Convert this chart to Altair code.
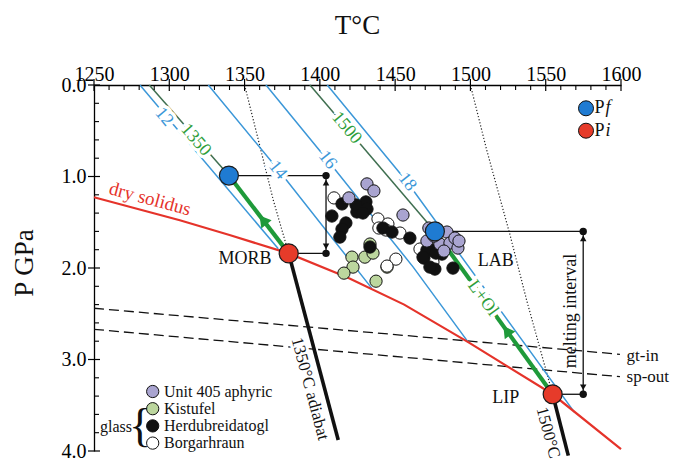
import altair as alt
import pandas as pd

FONT = "Liberation Serif"

# ---------------- axis ticks ----------------
t_major = [1250, 1300, 1350, 1400, 1450, 1500, 1550, 1600]
t_minor = [t for t in range(1250, 1601, 10) if t % 50]
p_major = [0, 1, 2, 3, 4]
p_minor = [0.2, 0.4, 0.6, 0.8, 1.2, 1.4, 1.6, 1.8, 2.2, 2.4, 2.6, 2.8,
           3.2, 3.4, 3.6, 3.8]

# ---------------- curves (T in °C, P in GPa) ----------------
solidus_T = [1250, 1307, 1340, 1379.3, 1418, 1456, 1498.5, 1554.6, 1600]
solidus_P = [1.227, 1.478, 1.64, 1.84, 2.10, 2.40, 2.81, 3.38, 3.98]

iso12_T, iso12_P = [1280.5, 1372.4], [0, 1.79]
iso14_T, iso14_P = [1325.9, 1372.4, 1434.4], [0, 0.927, 2.22]
iso16_T, iso16_P = [1364.2, 1405, 1462, 1498.5], [0, 0.82, 1.99, 2.81]
iso18_T, iso18_P = [1404.9, 1458, 1569], [0, 1.06, 3.575]

ad1350_T, ad1350_P = [1286.7, 1339.6], [0, 0.99]
ad1500_T, ad1500_P = [1393.4, 1476.4], [0, 1.60]

dotA_T, dotA_P = [1350, 1360.2, 1369.1, 1379.3], [0, 0.67, 1.26, 1.84]
dotB_T, dotB_P = [1500, 1510.8, 1526, 1537.3, 1554.6], [0, 0.71, 1.62, 2.35, 3.38]

gt_in_T, gt_in_P = [1250, 1599.3], [2.44, 2.943]
sp_out_T, sp_out_P = [1250, 1599.3], [2.67, 3.188]

mantle1350_T, mantle1350_P = [1379.3, 1412.2], [1.84, 3.88]
mantle1500_T, mantle1500_P = [1554.6, 1565.0], [3.38, 4.05]

# final (Pf) and initial (Pi) melting pressures
pf_T, pf_P = [1339.6, 1476.4], [0.99, 1.60]
pi_T, pi_P = [1379.3, 1554.6], [1.84, 3.38]
interval_T = [1404.1, 1574.9]

# ---------------- samples ----------------
unit405_T = [1431.3, 1435.9, 1419.3, 1455.2, 1471.1, 1479.7, 1484.4, 1486.4,
             1489.7, 1491.7, 1492.4, 1475.8, 1482.4, 1472.4]
unit405_P = [1.081, 1.158, 1.234, 1.421, 1.705, 1.738, 1.607, 1.727,
             1.673, 1.782, 1.705, 1.651, 1.815, 1.563]
kistufel_T = [1433.3, 1421.3, 1429.9, 1435.3, 1422.0, 1416.0, 1444.6, 1437.3]
kistufel_P = [1.738, 1.881, 1.881, 1.837, 1.990, 2.056, 1.990, 2.144]
herdu_T = [1414.7, 1408.0, 1424.6, 1430.6, 1431.3, 1424.0, 1428.6, 1417.3,
           1414.7, 1413.3, 1441.9, 1447.9, 1459.8, 1433.3, 1469.1, 1475.1,
           1481.1, 1471.1, 1476.4, 1488.4, 1468.5, 1473.1, 1477.1]
herdu_P = [1.300, 1.432, 1.388, 1.278, 1.355, 1.311, 1.399, 1.508,
           1.574, 1.662, 1.563, 1.607, 1.673, 1.771, 1.892, 1.804,
           1.848, 1.804, 2.012, 2.001, 1.881, 1.990, 1.837]
borgar_T = [1409.4, 1438.6, 1445.2, 1439.2, 1443.9, 1453.2, 1450.5, 1444.6,
            1466.5, 1475.1]
borgar_P = [1.234, 1.464, 1.519, 1.563, 1.585, 1.618, 1.903, 1.979,
            1.793, 1.935]

# ---------------- colours ----------------
BLUE = "#3b97d8"
RED = "#e5332a"
GREEN = "#1f9a3a"
DKGREEN = "#3f6f50"
PF_BLUE = "#1f7bd2"
PI_RED = "#e63b2a"

W, H = 527, 366
xs = alt.Scale(domain=[1250, 1600], nice=False, zero=False)
ys = alt.Scale(domain=[0, 4], reverse=True, nice=False, zero=False)

x_axis = alt.Axis(orient="top", values=t_major, format="d", title=None,
                  ticks=False, tickSize=0, grid=False, domainColor="black",
                  domainWidth=1.3, labelFont=FONT, labelFontSize=20,
                  labelColor="black", labelPadding=1, labelFlush=False,
                  labelOverlap=False)
y_axis = alt.Axis(orient="left", values=p_major, format=".1f", title=None,
                  ticks=False, tickSize=0, grid=False, domainColor="black",
                  domainWidth=1.3, labelFont=FONT, labelFontSize=20,
                  labelColor="black", labelPadding=8, labelFlush=False,
                  labelOverlap=False)


def X(f="T"):
    return alt.X(f"{f}:Q", scale=xs, axis=x_axis)


def Y(f="P"):
    return alt.Y(f"{f}:Q", scale=ys, axis=y_axis)


def curves(named):
    rows = []
    for name, (ts, ps) in named.items():
        for i, (t, p) in enumerate(zip(ts, ps)):
            rows.append({"id": name, "i": i, "T": t, "P": p})
    return pd.DataFrame(rows)


def line_layer(named, color, width, dash=None):
    kw = dict(color=color, strokeWidth=width, clip=False)
    if dash:
        kw["strokeDash"] = dash
    return alt.Chart(curves(named)).mark_line(**kw).encode(
        x=X(), y=Y(), detail="id:N", order="i:Q")


layers = []

# phase boundaries
layers.append(line_layer({"gt": (gt_in_T, gt_in_P), "sp": (sp_out_T, sp_out_P)},
                         "#111111", 1.3, [10, 5]))
# dotted curves
layers.append(line_layer({"a": (dotA_T, dotA_P), "b": (dotB_T, dotB_P)},
                         "#222222", 1.2, [1.2, 2]))
# blue isopleths
layers.append(line_layer({"12": (iso12_T, iso12_P), "14": (iso14_T, iso14_P),
                          "16": (iso16_T, iso16_P), "18": (iso18_T, iso18_P)},
                         BLUE, 1.5))
# thin adiabats above Pf
layers.append(line_layer({"1350": (ad1350_T, ad1350_P),
                          "1500": (ad1500_T, ad1500_P)}, DKGREEN, 1.5))
# dry solidus
layers.append(line_layer({"sol": (solidus_T, solidus_P)}, RED, 2.2))
# mantle adiabats below Pi
layers.append(line_layer({"m1350": (mantle1350_T, mantle1350_P),
                          "m1500": (mantle1500_T, mantle1500_P)}, "#111111", 3.6))
# melting paths Pi -> Pf
layers.append(line_layer({"morb": ([pi_T[0], pf_T[0]], [pi_P[0], pf_P[0]]),
                          "lip": ([pi_T[1], pf_T[1]], [pi_P[1], pf_P[1]])},
                         GREEN, 4.2))
head_frac = [0.43, 0.39]
heads = pd.DataFrame({
    "T": [pi_T[k] + head_frac[k] * (pf_T[k] - pi_T[k]) for k in range(2)],
    "P": [pi_P[k] + head_frac[k] * (pf_P[k] - pi_P[k]) for k in range(2)],
    "a": [322, 324],
})
layers.append(alt.Chart(heads).mark_point(
    shape="triangle-up", filled=True, color=GREEN, size=170, opacity=1).encode(
    x=X(), y=Y(), angle=alt.Angle("a:Q", scale=None)))

# melting interval brackets
brk = pd.DataFrame({"T": pf_T + pi_T, "T2": interval_T + interval_T,
                    "P": pf_P + pi_P})
layers.append(alt.Chart(brk).mark_rule(color="#111111", strokeWidth=1.3).encode(
    x=X(), x2="T2:Q", y=Y()))
vert = pd.DataFrame({"T": interval_T, "P": pf_P, "P2": pi_P})
layers.append(alt.Chart(vert).mark_rule(color="#111111", strokeWidth=1.3).encode(
    x=X(), y=Y(), y2="P2:Q"))
layers.append(alt.Chart(brk).mark_point(filled=True, color="#111111", size=55,
                                        opacity=1).encode(x=X("T2"), y=Y()))
off = 7.0 * 4 / H
tips = pd.DataFrame({"T": interval_T * 2,
                     "P": [p + off for p in pf_P] + [p - off for p in pi_P],
                     "s": ["triangle-up"] * 2 + ["triangle-down"] * 2})
layers.append(alt.Chart(tips).mark_point(filled=True, color="#111111", size=42,
                                         opacity=1).encode(
    x=X(), y=Y(), shape=alt.Shape("s:N", scale=None)))


def scatter(ts, ps, fill):
    return alt.Chart(pd.DataFrame({"T": ts, "P": ps})).mark_point(
        filled=True, fill=fill, stroke="#111111", strokeWidth=1, size=150,
        opacity=1).encode(x=X(), y=Y())


layers.append(scatter(kistufel_T, kistufel_P, "#bcd69e"))
layers.append(scatter(borgar_T, borgar_P, "#ffffff"))
layers.append(scatter(herdu_T, herdu_P, "#111111"))
layers.append(scatter(unit405_T, unit405_P, "#a9a4d0"))


def labels(rows, color, size, halo=0):
    df = pd.DataFrame(rows, columns=["label", "T", "P", "a"])
    base = alt.Chart(df).encode(x=X(), y=Y(), text="label:N",
                                angle=alt.Angle("a:Q", scale=None))
    out = []
    if halo:
        out.append(base.mark_text(font=FONT, fontSize=size, fill="white",
                                  stroke="white", strokeWidth=halo,
                                  baseline="middle", align="center"))
    out.append(base.mark_text(font=FONT, fontSize=size, color=color,
                              baseline="middle", align="center"))
    return out


layers += labels([["12", 1296.5, 0.35, 50], ["14", 1372, 0.93, 51],
                  ["16", 1405, 0.82, 52], ["18", 1458, 1.06, 52]],
                 BLUE, 18, halo=7)
layers += labels([["1350", 1317.6, 0.60, 49], ["1500", 1417.8, 0.47, 50]],
                 "#2e9e3a", 18, halo=7)
layers += labels([["L+Ol", 1508.3, 2.33, 54]], "#2e9e3a", 18, halo=7)
layers += labels([["dry solidus", 1287.2, 1.245, 15]], RED, 19)
layers += labels([["1350°C adiabat", 1393.4, 3.32, 75]], "#111111", 17, halo=6)
layers += labels([["1500°C", 1551.5, 3.80, 75]], "#111111", 17)
layers += labels([["MORB", 1350.3, 1.90, 0], ["LAB", 1516.8, 1.925, 0],
                  ["LIP", 1523.4, 3.42, 0], ["melting interval", 1566.7, 2.47, 270]],
                 "#111111", 18)
gtdf = pd.DataFrame({"label": ["gt-in", "sp-out"], "T": [1603.7, 1603.7],
                     "P": [2.962, 3.186]})
layers.append(alt.Chart(gtdf).mark_text(font=FONT, fontSize=17, color="#111111",
                                        align="left", baseline="middle").encode(
    x=X(), y=Y(), text="label:N"))

# Pf / Pi markers
layers.append(alt.Chart(pd.DataFrame({"T": pf_T, "P": pf_P})).mark_point(
    filled=True, fill=PF_BLUE, stroke="#1a1a1a", strokeWidth=1.2, size=360,
    opacity=1).encode(x=X(), y=Y()))
layers.append(alt.Chart(pd.DataFrame({"T": pi_T, "P": pi_P})).mark_point(
    filled=True, fill=PI_RED, stroke="#1a1a1a", strokeWidth=1.2, size=360,
    opacity=1).encode(x=X(), y=Y()))

# axis ticks drawn inside/across the frame
tk = pd.DataFrame({"T": t_major})
layers.append(alt.Chart(tk).mark_rule(color="black", strokeWidth=1.2).encode(
    x=X(), y=alt.value(-6), y2=alt.value(6)))
layers.append(alt.Chart(pd.DataFrame({"T": t_minor})).mark_rule(
    color="black", strokeWidth=1.1).encode(x=X(), y=alt.value(0), y2=alt.value(5)))
layers.append(alt.Chart(pd.DataFrame({"P": p_major})).mark_rule(
    color="black", strokeWidth=1.2).encode(y=Y(), x=alt.value(-6), x2=alt.value(6)))
layers.append(alt.Chart(pd.DataFrame({"P": p_minor})).mark_rule(
    color="black", strokeWidth=1.1).encode(y=Y(), x=alt.value(0), x2=alt.value(5)))

one = pd.DataFrame({"k": [0]})


def px_text(txt, x, y, size, **kw):
    opts = dict(font=FONT, fontSize=size, color="#111111", text=txt)
    opts.update(kw)
    return alt.Chart(one).mark_text(**opts).encode(x=alt.value(x), y=alt.value(y))


def px_dot(x, y, fill, size):
    return alt.Chart(one).mark_point(filled=True, fill=fill, stroke="#111111",
                                     strokeWidth=1, size=size, opacity=1).encode(
        x=alt.value(x), y=alt.value(y))


# axis titles
layers.append(px_text("T°C", 263.5, -51, 27, align="center", baseline="alphabetic"))
layers.append(px_text("P GPa", -61, 178, 27, align="center", baseline="alphabetic",
                      angle=270))

# sample legend
legend_names = ["Unit 405 aphyric", "Kistufel", "Herdubreidatogl", "Borgarhraun"]
legend_fills = ["#a9a4d0", "#bcd69e", "#111111", "#ffffff"]
for k, (nm, fc) in enumerate(zip(legend_names, legend_fills)):
    yy = 306.5 + 17.2 * k
    layers.append(px_dot(58.7, yy, fc, 150))
    layers.append(px_text(nm, 70, yy, 16, align="left", baseline="middle"))
layers.append(px_text("glass", 38, 341.5, 16, align="right", baseline="middle"))
layers.append(px_text("{", 46, 341.5, 46, align="center", baseline="middle"))

# Pf / Pi legend
for k, (fc, sub) in enumerate([(PF_BLUE, "f"), (PI_RED, "i")]):
    yy = 23.3 + 22.4 * k
    layers.append(px_dot(492, yy, fc, 225))
    layers.append(px_text("P", 500.5, yy, 18, align="left", baseline="middle"))
    layers.append(px_text(sub, 511.5, yy, 18, align="left", baseline="middle",
                          fontStyle="italic"))

chart = alt.layer(*layers).properties(
    width=W, height=H,
    autosize=alt.AutoSizeParams(type="none"),
    padding={"left": 94, "top": 85, "right": 53, "bottom": 9},
    background="white",
).configure_view(stroke=None)

chart.save("out.html", embed_options={"renderer": "svg", "actions": False})
